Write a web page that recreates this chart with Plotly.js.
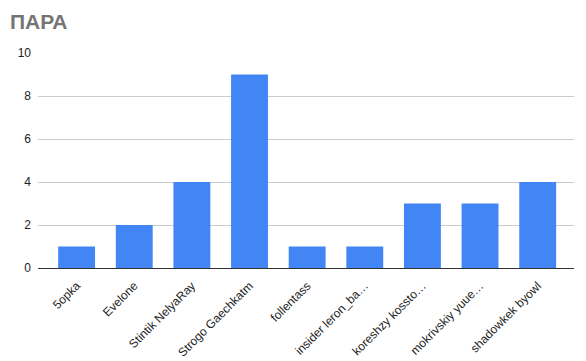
<!DOCTYPE html>
<html>
<head>
<meta charset="utf-8">
<script src="https://cdn.plot.ly/plotly-3.0.1.min.js"></script>
<style>html,body{margin:0;padding:0;background:#fff;}#chart{width:586px;height:361px;}</style>
</head>
<body>
<div id="chart"></div>
<script>
const categories = ["5opka", "Evelone", "Stintik NelyaRay", "Strogo Gaechkatm", "follentass", "insider leron_ba…", "koreshzy kossto…", "mokrivskiy yuue…", "shadowkek byowl"];
const values = [1, 2, 4, 9, 1, 1, 3, 3, 4];
const yTicks = [0, 2, 4, 6, 8, 10];

Plotly.newPlot('chart', [{
  type: 'bar',
  x: categories.map((c, i) => i),
  y: values,
  marker: {color: '#4285f4'},
  hoverinfo: 'none'
}], {
  width: 586, height: 361,
  margin: {l: 38, r: 12, t: 53, b: 93},
  paper_bgcolor: '#fff', plot_bgcolor: '#fff',
  bargap: 0.36,
  font: {family: 'Liberation Sans, Arial, sans-serif', size: 12, color: '#222'},
  title: {text: '<b>ПАРА</b>', font: {size: 21, color: '#757575', family: 'Liberation Sans, Arial, sans-serif'}, x: 0.017, xanchor: 'left', y: 0.94, yanchor: 'middle'},
  xaxis: {
    range: [-0.67, 8.63],
    tickmode: 'array', tickvals: categories.map((c, i) => i), ticktext: categories,
    tickangle: -45, showgrid: false, zeroline: false,
    showline: true, linecolor: '#333', linewidth: 1,
    ticks: '', ticklabelstandoff: 5, fixedrange: true
  },
  yaxis: {
    range: [0, 10], tickvals: yTicks, ticktext: yTicks.map(String),
    showgrid: true, gridcolor: '#cccccc', zeroline: false,
    ticks: '', ticklabelstandoff: 6, fixedrange: true
  },
  showlegend: false
}, {displayModeBar: false, staticPlot: true});
</script>
</body>
</html>
